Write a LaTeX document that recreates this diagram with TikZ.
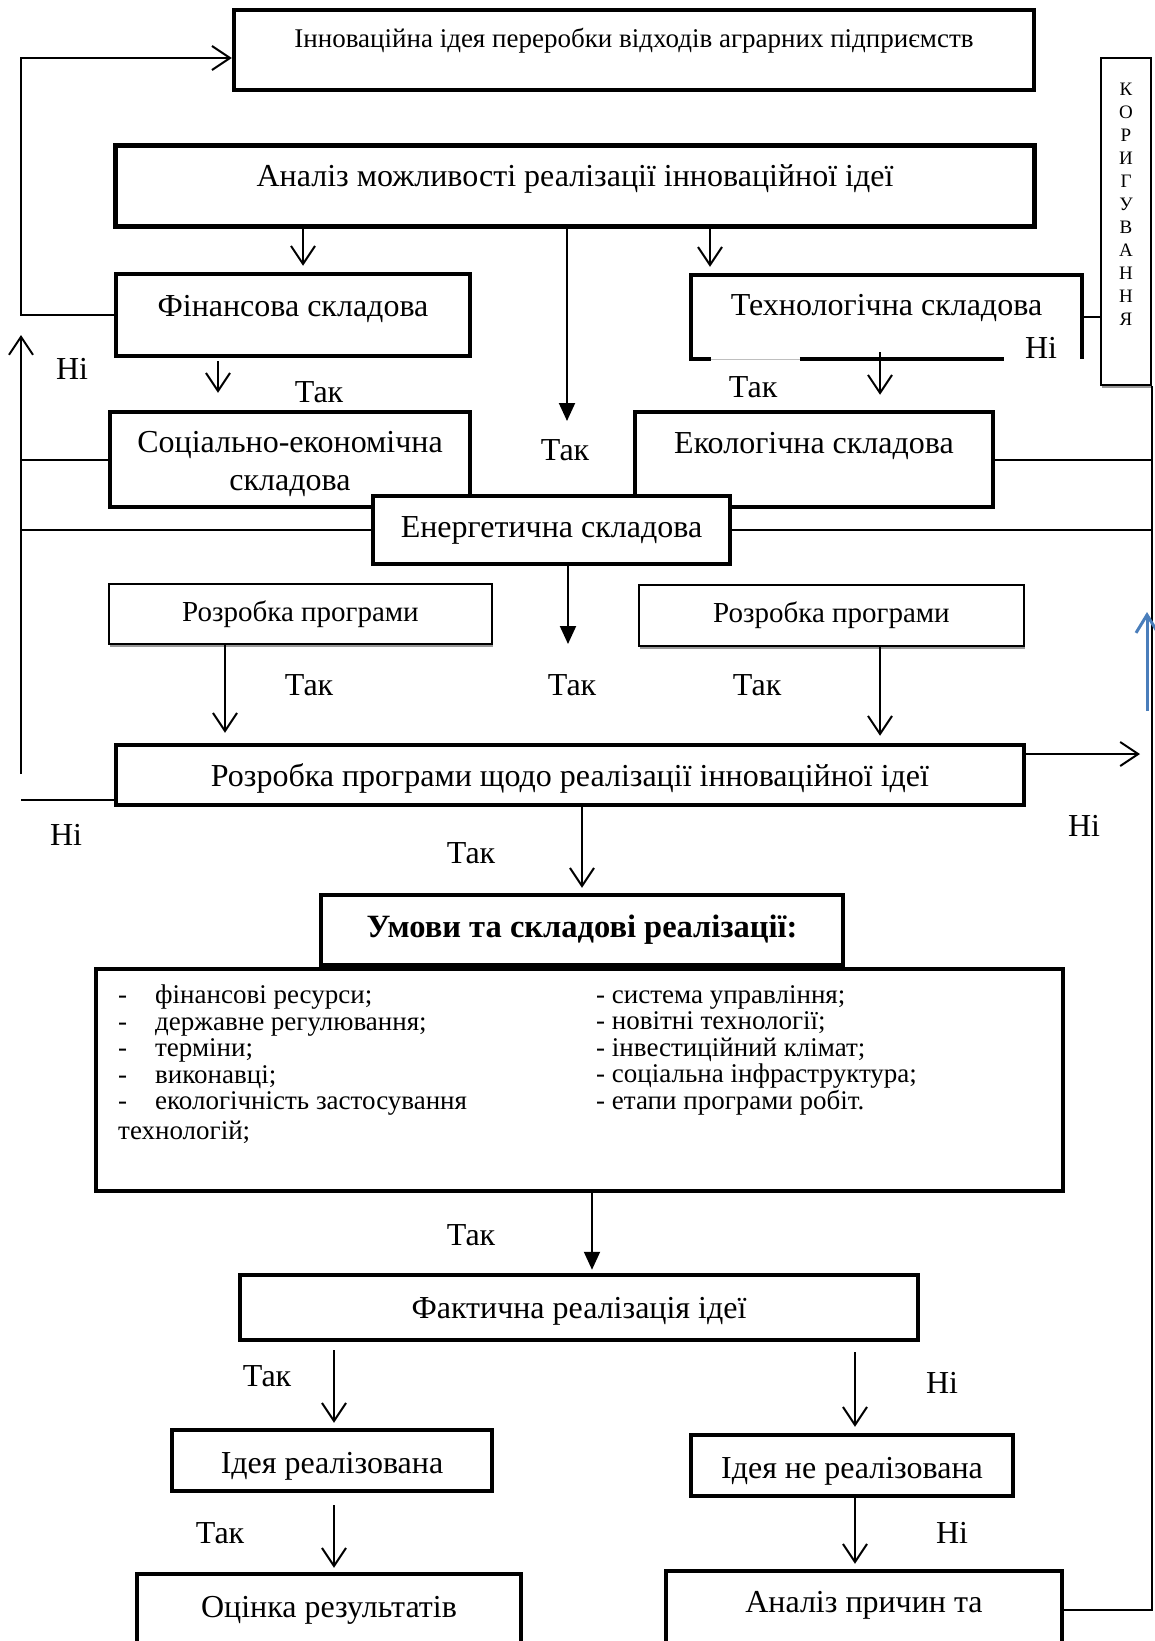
\documentclass[tikz,border=0pt]{standalone}
\usepackage{fontspec}
\setmainfont{Liberation Serif}
\usetikzlibrary{arrows.meta,shadows}
\definecolor{wordblue}{RGB}{74,126,187}
\tikzset{
  every node/.style={inner sep=0pt, font=\fontsize{32}{38}\selectfont},
  frame/.style={draw, line width=4.5pt, fill=white},
  thinframe/.style={draw, line width=2pt, fill=white, drop shadow={shadow xshift=1pt, shadow yshift=-3pt, fill=black!40, opacity=1}},
  conn/.style={line width=2pt},
  oarrow/.style={conn, -{Straight Barb[length=18pt,width=24pt]}},
  farrow/.style={conn, -{Triangle[length=18pt,width=16pt]}},
  barrow/.style={line width=3pt, color=wordblue, -{Straight Barb[length=18pt,width=22pt]}},
  lift/.style={text depth=#1},
  sink/.style={text height=#1},
  gapmark/.style={white, line width=3.5pt},
}

\begin{document}
\begin{tikzpicture}[x=1pt,y=-1pt]
    \useasboundingbox (0,0) rectangle (1155,1641);
    \clip (0,0) rectangle (1155,1641);
    % boxes
    \node[frame, minimum width=800pt, minimum height=80pt, lift=24pt, font=\fontsize{27}{32}\selectfont] (idea) at (634,50) {Інноваційна ідея переробки відходів аграрних підприємств};
    \node[frame, minimum width=919pt, minimum height=81pt, lift=21pt] (analiz) at (575,186) {Аналіз можливості реалізації інноваційної ідеї};
    \node[frame, minimum width=354pt, minimum height=82pt, lift=19pt] (fin) at (293,315) {Фінансова складова};
    \node[minimum width=391pt, minimum height=84pt, lift=24pt] (tech) at (886.5,317) {Технологічна складова};
    \node[frame, minimum width=360pt, minimum height=95pt, align=center] (soc) at (290,459.5) {\rule{0pt}{30pt}Соціально-економічна\\складова};
    \node[frame, minimum width=358pt, minimum height=95pt, lift=34pt] (eco) at (814,459.5) {Екологічна складова};
    \node[frame, minimum width=357pt, minimum height=68pt] (energ) at (551.5,530) {Енергетична складова};
    \node[thinframe, minimum width=383pt, minimum height=60pt, font=\fontsize{29}{34}\selectfont] (rozl) at (300.5,614) {Розробка програми};
    \node[thinframe, minimum width=385pt, minimum height=61pt, font=\fontsize{29}{34}\selectfont] (rozr) at (831.5,615.5) {Розробка програми};
    \node[frame, minimum width=908pt, minimum height=60pt, sink=29pt] (rozmain) at (570,775) {Розробка програми щодо реалізації інноваційної ідеї};
    \node[frame, minimum width=522pt, minimum height=70pt, font=\fontsize{32.5}{38}\selectfont\bfseries] (umovy) at (582,930) {Умови та складові реалізації:};
    \node[frame, minimum width=967pt, minimum height=222pt] (list) at (579.5,1080) {};
    \node[anchor=north west, align=left, font=\fontsize{27}{26.5}\selectfont] (listl) at (118,985)
      {\makebox[37pt][l]{-}фінансові ресурси;\\
       \makebox[37pt][l]{-}державне регулювання;\\
       \makebox[37pt][l]{-}терміни;\\
       \makebox[37pt][l]{-}виконавці;\\
       \makebox[37pt][l]{-}екологічність застосування\\[3.5pt]
       технологій;};
    \node[anchor=north west, align=left, font=\fontsize{27}{26.5}\selectfont] (listr) at (596,985)
      {- система управління;\\
       - новітні технології;\\
       - інвестиційний клімат;\\
       - соціальна інфраструктура;\\
       - етапи програми робіт.};
    \node[frame, minimum width=678pt, minimum height=65pt, sink=29pt] (fakt) at (579,1307.5) {Фактична реалізація ідеї};
    \node[frame, minimum width=320pt, minimum height=61pt, sink=33pt] (real) at (332,1460.5) {Ідея реалізована};
    \node[frame, minimum width=322pt, minimum height=61pt, sink=33pt] (nreal) at (852,1465.5) {Ідея не реалізована};
    \node[frame, minimum width=384pt, minimum height=76pt, lift=11pt] (otsin) at (329,1612) {Оцінка результатів};
    \node[frame, minimum width=396pt, minimum height=78pt, lift=17pt] (prych) at (864,1610) {Аналіз причин та};
    \node[thinframe, minimum width=50pt, minimum height=327pt, align=center, font=\fontsize{19}{23}\selectfont] (korig) at (1126,221.5)
      {К\\О\\Р\\И\\Г\\У\\В\\А\\Н\\Н\\Я\rule[-34pt]{0pt}{34pt}};
    % broken borders
    \draw[line width=4.5pt] ([xshift=20pt]tech.south west) -- (tech.south west) -- (tech.north west) -- (tech.north east) -- (tech.south east);
    \draw[line width=4.5pt] ([xshift=109pt]tech.south west) -- ([xshift=313pt]tech.south west);
    \draw[gray!50, line width=1.2pt] ([xshift=20pt]tech.south west) -- ([xshift=109pt]tech.south west);
    \draw[gapmark] ([xshift=181pt,yshift=1.5pt]fakt.north west) -- ([xshift=284pt,yshift=1.5pt]fakt.north west);
    \draw[gapmark] ([xshift=31pt,yshift=1.5pt]otsin.north west) -- ([xshift=136pt,yshift=1.5pt]otsin.north west);
    \draw[gapmark] ([xshift=238pt,yshift=1.5pt]prych.north west) -- ([xshift=339pt,yshift=1.5pt]prych.north west);
    % free ends
    \coordinate (lcorner) at (21,58);
    \coordinate (ltop) at (21,335);
    \coordinate (lbot) at (21,774);
    \coordinate (lout) at (21,800);
    \coordinate (mid1) at (567,421);
    \coordinate (mid2) at (568,644);
    \coordinate (rout) at (1140,754);
    \coordinate (bbot) at (1147,711);
    \coordinate (btop) at (1147,612);
    % feedback lines
    \draw[oarrow] (fin.west) -| (lcorner) -- (idea.west |- lcorner);
    \draw[oarrow] (lbot) -- (ltop);
    \draw[conn] (soc.west) -- (soc.west -| lcorner);
    \draw[conn] (energ.west) -- (energ.west -| lcorner);
    \draw[conn] (rozmain.west |- lout) -- (lout);
    \draw[conn] (tech.east) -- (korig.west |- tech.east);
    \draw[conn] (eco.east) -- (eco.east -| korig.east);
    \draw[conn] (energ.east) -- (energ.east -| korig.east);
    \draw[conn] (prych.east) -| (korig.south east);
    \draw[oarrow] (rozmain.east |- rout) -- (rout);
    \draw[barrow] (bbot) -- (btop);
    % down arrows
    \draw[oarrow, shorten >=6pt] ([xshift=-272pt]analiz.south) -- ([xshift=10pt]fin.north);
    \draw[oarrow, shorten >=8pt] ([xshift=135pt]analiz.south) -- ([xshift=-176.5pt]tech.north);
    \draw[farrow] ([xshift=-8pt]analiz.south) -- (mid1);
    \draw[oarrow, shorten <=3pt, shorten >=17pt] ([xshift=-75pt]fin.south) -- ([xshift=-72pt]soc.north);
    \draw[oarrow, shorten >=15pt] ([xshift=-6.5pt,yshift=7pt]tech.south) -- ([xshift=66pt]eco.north);
    \draw[farrow] ([xshift=16.5pt]energ.south) -- (mid2);
    \draw[oarrow, shorten >=10pt] ([xshift=-75.5pt]rozl.south) -- ([xshift=-345pt]rozmain.north);
    \draw[oarrow, shorten >=7pt] ([xshift=48.5pt]rozr.south) -- ([xshift=310pt]rozmain.north);
    \draw[oarrow, shorten >=5pt] ([xshift=12pt]rozmain.south) -- (umovy.north);
    \draw[farrow, shorten >=3pt] ([xshift=12.5pt]list.south) -- ([xshift=13pt]fakt.north);
    \draw[oarrow, shorten <=8pt, shorten >=5pt] ([xshift=-245pt]fakt.south) -- ([xshift=2pt]real.north);
    \draw[oarrow, shorten <=10pt, shorten >=6pt] ([xshift=276pt]fakt.south) -- ([xshift=3pt]nreal.north);
    \draw[oarrow, shorten <=12pt, shorten >=4pt] ([xshift=2pt]real.south) -- ([xshift=5pt]otsin.north);
    \draw[oarrow, shorten >=5pt] ([xshift=3pt]nreal.south) -- ([xshift=-9pt]prych.north);
    % labels
    \node (ni1) at (72,369) {Ні};
    \node (tak1) at (319,392) {Так};
    \node (tak2) at (753,387) {Так};
    \node (ni2) at (1041,348) {Ні};
    \node (tak3) at (565,450) {Так};
    \node (tak4) at (309,685) {Так};
    \node (tak5) at (572,685) {Так};
    \node (tak6) at (757,685) {Так};
    \node (ni3) at (66,835) {Ні};
    \node (ni4) at (1084,826) {Ні};
    \node (tak7) at (471,853) {Так};
    \node (tak8) at (471,1235) {Так};
    \node (tak9) at (267,1376) {Так};
    \node (ni5) at (942,1383) {Ні};
    \node (tak10) at (220,1533) {Так};
    \node (ni6) at (952,1533) {Ні};
\end{tikzpicture}
\end{document}
